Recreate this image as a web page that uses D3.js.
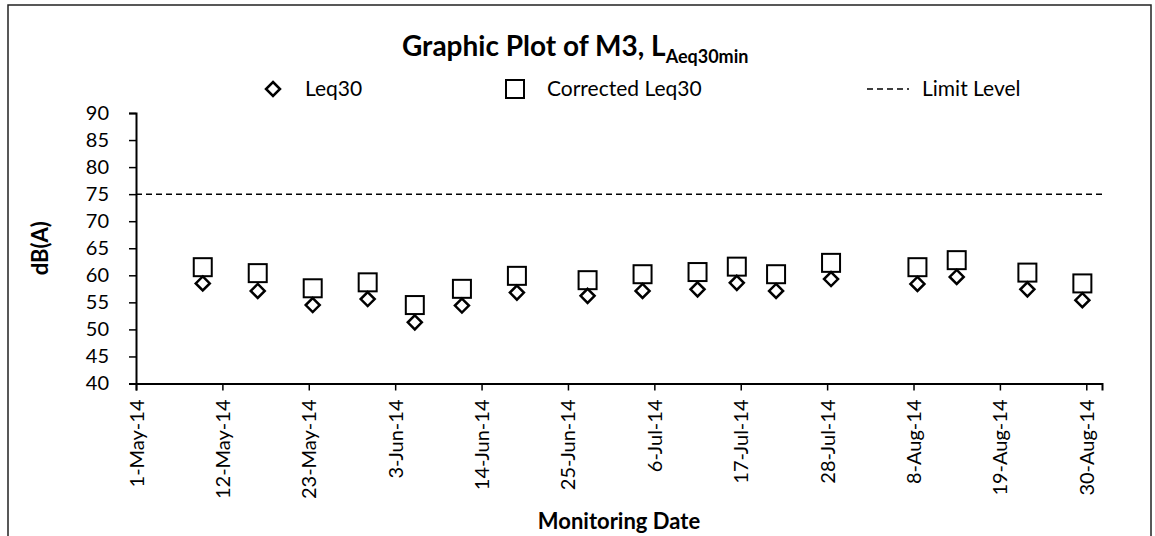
<!DOCTYPE html>
<html>
<head>
<meta charset="utf-8">
<script src="https://cdn.jsdelivr.net/npm/d3@7"></script>
<style>
  html, body { margin: 0; padding: 0; background: #fff; }
  text { font-family: Lato, "Open Sans", sans-serif; fill: #000; }
</style>
</head>
<body>
<svg id="chart" width="1155" height="536"></svg>
<script>
// ---- data ----
const dates = ["2014-05-09T12:00","2014-05-16T12:00","2014-05-23T12:00","2014-05-30T12:00",
  "2014-06-05T12:00","2014-06-11T12:00","2014-06-18T12:00","2014-06-27T12:00",
  "2014-07-04T12:00","2014-07-11T12:00","2014-07-16T12:00","2014-07-21T12:00",
  "2014-07-28T12:00","2014-08-08T12:00","2014-08-13T12:00","2014-08-22T12:00","2014-08-29T12:00"];
const leq30 = [58.5, 57.1, 54.5, 55.6, 51.3, 54.4, 56.8, 56.2, 57.1, 57.4, 58.6, 57.1, 59.3, 58.4, 59.7, 57.4, 55.4];
const correctedLeq30 = [61.5, 60.4, 57.6, 58.7, 54.5, 57.5, 59.9, 59.1, 60.2, 60.6, 61.6, 60.2, 62.3, 61.5, 62.8, 60.5, 58.5];
const limitLevel = 75;
const xTickLabels = ["1-May-14","12-May-14","23-May-14","3-Jun-14","14-Jun-14","25-Jun-14",
  "6-Jul-14","17-Jul-14","28-Jul-14","8-Aug-14","19-Aug-14","30-Aug-14"];
const yTicks = [40, 45, 50, 55, 60, 65, 70, 75, 80, 85, 90];
const xDomain = ["2014-05-01T00:00", "2014-09-01T00:00"];
const seriesNames = ["Leq30", "Corrected Leq30", "Limit Level"];
const titleMain = "Graphic Plot of M3, L";
const titleSub = "Aeq30min";

(function () {
// ---- layout ----
const svg = d3.select("#chart");
const pLeft = 136, pRight = 1102, pTop = 113, pBottom = 383.5;

const parse = d3.timeParse("%Y-%m-%dT%H:%M");
const parseTick = d3.timeParse("%d-%b-%y");
const x = d3.scaleTime().domain(xDomain.map(parse)).range([pLeft, pRight]);
const y = d3.scaleLinear().domain([40, 90]).range([pBottom, pTop]);

// outer border
svg.append("rect").attr("x", 8).attr("y", 5).attr("width", 1143).attr("height", 600)
  .attr("fill", "none").attr("stroke", "#222").attr("stroke-width", 1.5);

// title
const title = svg.append("text").attr("x", 402).attr("y", 56)
  .attr("font-size", 28).attr("font-weight", "bold");
title.append("tspan").text(titleMain);
title.append("tspan").attr("font-size", 18).attr("dy", 7).text(titleSub);

// limit line
svg.append("line")
  .attr("x1", pLeft).attr("x2", pRight)
  .attr("y1", y(limitLevel)).attr("y2", y(limitLevel))
  .attr("stroke", "#000").attr("stroke-width", 1.5).attr("stroke-dasharray", "6,4");

// axes
const yAxis = d3.axisLeft(y).tickValues(yTicks).tickSize(7).tickPadding(20).tickFormat(d3.format("d"));
const gy = svg.append("g").attr("transform", `translate(${pLeft},0)`).call(yAxis);
gy.select(".domain").attr("stroke-width", 2);
gy.selectAll(".tick line").attr("stroke-width", 1.5);
gy.selectAll(".tick text").attr("font-size", 20).attr("font-family", "Lato, sans-serif").attr("fill", "#000");

const xTickDates = xTickLabels.map(parseTick);
const xAxis = d3.axisBottom(x).tickValues(xTickDates).tickSize(7)
  .tickFormat((d, i) => xTickLabels[i]);
const gx = svg.append("g").attr("transform", `translate(0,${pBottom})`).call(xAxis);
gx.select(".domain").attr("stroke-width", 2);
gx.selectAll(".tick line").attr("stroke-width", 1.5);
gx.selectAll(".tick text")
  .attr("font-size", 20).attr("font-family", "Lato, sans-serif").attr("fill", "#000")
  .attr("transform", "rotate(-90)")
  .attr("text-anchor", "end")
  .attr("dy", "0.35em")
  .attr("x", -16).attr("y", 0);

// axis titles
svg.append("text").attr("transform", `translate(48,${(pTop + pBottom) / 2}) rotate(-90)`)
  .attr("text-anchor", "middle").attr("font-size", 22).attr("font-weight", "bold").text("dB(A)");
svg.append("text").attr("x", (pLeft + pRight) / 2).attr("y", 529)
  .attr("text-anchor", "middle").attr("font-size", 22).attr("font-weight", "bold").text("Monitoring Date");

// markers
const sq = 18, dia = 7;
const diamondPath = (cx, cy) => `M${cx},${cy - dia}L${cx + dia},${cy}L${cx},${cy + dia}L${cx - dia},${cy}Z`;

svg.append("g").selectAll("rect").data(dates).join("rect")
  .attr("x", (d) => x(parse(d)) - sq / 2)
  .attr("y", (d, i) => y(correctedLeq30[i]) - sq / 2)
  .attr("width", sq).attr("height", sq)
  .attr("fill", "#fff").attr("stroke", "#000").attr("stroke-width", 2);

svg.append("g").selectAll("path").data(dates).join("path")
  .attr("d", (d, i) => diamondPath(x(parse(d)), y(leq30[i])))
  .attr("fill", "#fff").attr("stroke", "#000").attr("stroke-width", 2.5);

// legend
const ly = 89;
const lg = svg.append("g");
lg.append("path").attr("d", diamondPath(273, ly)).attr("fill", "#fff").attr("stroke", "#000").attr("stroke-width", 2.5);
lg.append("text").attr("x", 305).attr("y", ly).attr("dy", "0.35em").attr("font-size", 21).text(seriesNames[0]);
lg.append("rect").attr("x", 515 - sq / 2).attr("y", ly - sq / 2).attr("width", sq).attr("height", sq)
  .attr("fill", "#fff").attr("stroke", "#000").attr("stroke-width", 2);
lg.append("text").attr("x", 547).attr("y", ly).attr("dy", "0.35em").attr("font-size", 21).text(seriesNames[1]);
lg.append("line").attr("x1", 867).attr("x2", 909).attr("y1", ly).attr("y2", ly)
  .attr("stroke", "#000").attr("stroke-width", 1.5).attr("stroke-dasharray", "6,4");
lg.append("text").attr("x", 922).attr("y", ly).attr("dy", "0.35em").attr("font-size", 21).text(seriesNames[2]);
})();
</script>
</body>
</html>
